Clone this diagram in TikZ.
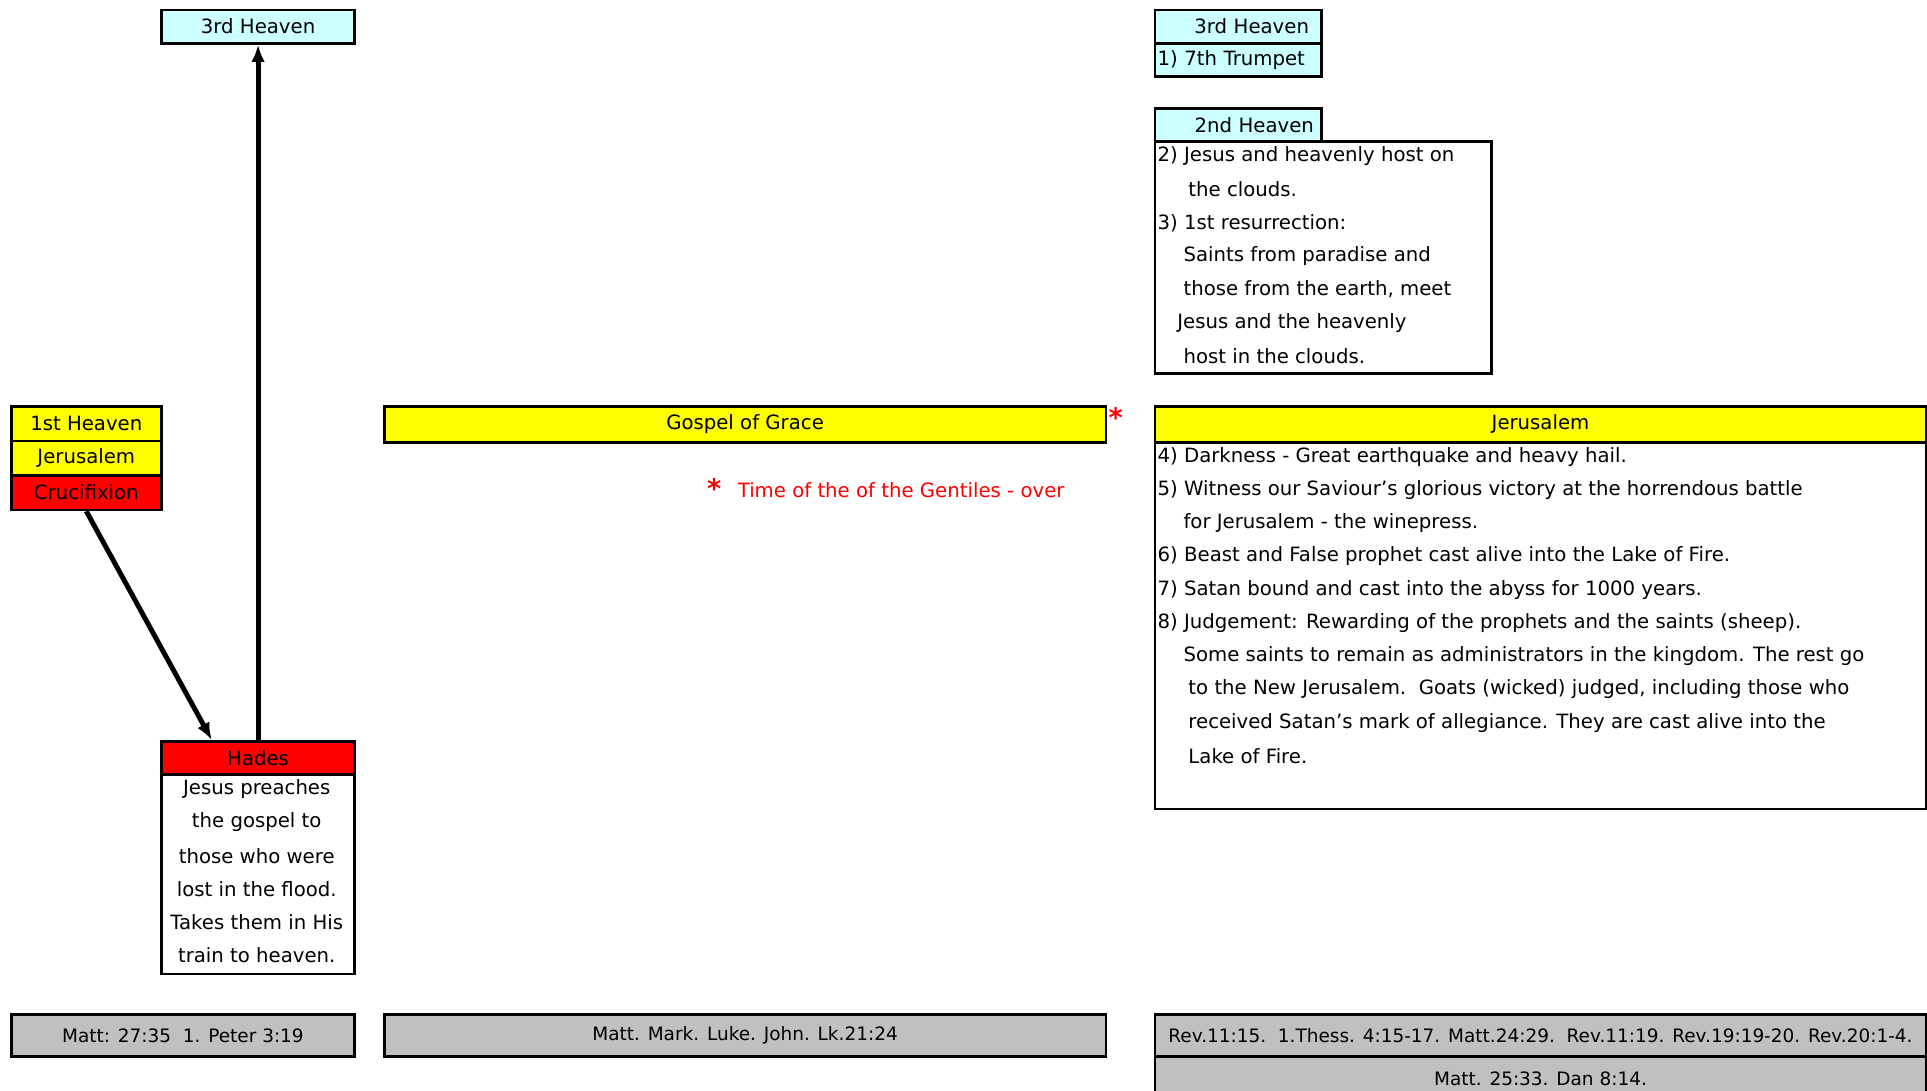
\documentclass[tikz,border=0pt]{standalone}
\usepackage{fontspec}
\setmainfont{DejaVu Sans}
\usetikzlibrary{arrows.meta}
\definecolor{skyc}{HTML}{CCFFFF}
\definecolor{sunyellow}{HTML}{FFFF00}
\definecolor{refgrey}{HTML}{C0C0C0}
\begin{document}
\begin{tikzpicture}[x=1pt,y=-1pt,>={Latex[length=14pt,width=11pt]},
		font=\fontsize{16pt}{18pt}\selectfont,
		cell/.style={draw,line width=2.2pt,inner sep=0pt,anchor=north west,minimum height=27pt},
		refcell/.style={cell,fill=refgrey,minimum height=34pt,font=\fontsize{15pt}{17pt}\selectfont},
		row/.style={anchor=west,inner sep=0pt},
		conn/.style={->,line width=4pt}]
				\clip (0,0) rectangle (1565,886);

				% draw the left column
				\node[cell,fill=skyc,minimum width=157pt] (heavenL) at (130,7) {3rd Heaven};
				\node[cell,fill=sunyellow,minimum width=122pt,minimum height=28pt] (firstL) at (8,329) {1st Heaven};
				\node[cell,fill=sunyellow,minimum width=122pt,minimum height=28pt] (jerL) at (8,357) {Jerusalem};
				\node[cell,fill=red,minimum width=122pt,minimum height=28pt] (crux) at (8,385) {Crucifixion};

				% the hades box
				\node[cell,fill=red,minimum width=157pt] (hades) at (130,601) {Hades};
				\node[cell,minimum width=157pt,minimum height=162pt] (hadesbox) at (130,628) {};
				\foreach \i/\txt in {
					0/Jesus preaches,
					1/the gospel to,
					2/those who were,
					3/lost in the flood.,
					4/Takes them in His,
					5/train to heaven.}
						\node[inner sep=0pt] (hl\i) at (208.5,{641+27*\i}) {\txt};

				% the arrows
				\draw[conn] (hades.north) -- (heavenL.south);
				\draw[conn] (crux.south) -- ([xshift=42pt]hades.north west);

				% draw the middle column
				\node[cell,fill=sunyellow,minimum width=586pt,minimum height=29pt] (gospel) at (311,329) {Gospel of Grace};
				\node[red,inner sep=0pt,font=\fontsize{22pt}{22pt}\selectfont\bfseries] (gstar) at (906,339) {*};
				\node[red,inner sep=0pt,font=\fontsize{22pt}{22pt}\selectfont\bfseries] (nstar) at (580,397) {*};
				\node[red,row] (note) at (599,398) {Time of the of the Gentiles - over};

				% draw the right column
				\node[cell,fill=skyc,minimum width=135pt,text width=115pt,align=right] (heavenR) at (937,7) {3rd Heaven};
				\node[cell,fill=skyc,minimum width=135pt,text width=131pt,align=left] (trumpet) at (937,34) {1) 7th Trumpet};
				\node[cell,fill=skyc,minimum width=135pt,text width=123pt,align=right] (heaven2) at (937,87) {2nd Heaven};
				\node[cell,minimum width=273pt,minimum height=188pt] (clouds) at (937,114) {};
				\foreach \i/\ind/\txt in {
					0/0/{2) Jesus and heavenly host on},
					1/25/{the clouds.},
					2/0/{3) 1st resurrection:},
					3/21/{Saints from paradise and},
					4/21/{those from the earth, meet},
					5/16/{Jesus and the heavenly},
					6/21/{host in the clouds.}}
						\node[row] (cl\i) at ({940+\ind},{127+27*\i}) {\txt};

				\node[cell,fill=sunyellow,minimum width=626pt,minimum height=29pt] (jerR) at (937,329) {Jerusalem};
				\node[cell,minimum width=626pt,minimum height=298pt] (jerbox) at (937,358) {};
				\foreach \i/\ind/\txt in {
					0/0/{4) Darkness - Great earthquake and heavy hail.},
					1/0/{5) Witness our Saviour's glorious victory at the horrendous battle},
					2/21/{for Jerusalem - the winepress.},
					3/0/{6) Beast and False prophet cast alive into the Lake of Fire.},
					4/0/{7) Satan bound and cast into the abyss for 1000 years.},
					5/0/{8) Judgement: Rewarding of the prophets and the saints (sheep).},
					6/21/{Some saints to remain as administrators in the kingdom. The rest go},
					7/25/{to the New Jerusalem.\ \ Goats (wicked) judged, including those who},
					8/25/{received Satan's mark of allegiance. They are cast alive into the},
					9/25/{Lake of Fire.}}
						\node[row] (jl\i) at ({940+\ind},{371+27*\i}) {\txt};

				% draw the references
				\node[refcell,minimum width=279pt] (refL) at (8,823) {Matt: 27:35\ \ 1. Peter 3:19};
				\node[refcell,minimum width=586pt] (refM) at (311,823) {Matt. Mark. Luke. John. Lk.21:24};
				\node[refcell,minimum width=626pt] (refR) at (937,823) {Rev.11:15.\ \ 1.Thess. 4:15-17. Matt.24:29.\ \ Rev.11:19. Rev.19:19-20. Rev.20:1-4.};
				\node[refcell,minimum width=626pt,minimum height=36pt] (refR2) at (937,857) {Matt. 25:33. Dan 8:14.};
			\end{tikzpicture}
\end{document}
